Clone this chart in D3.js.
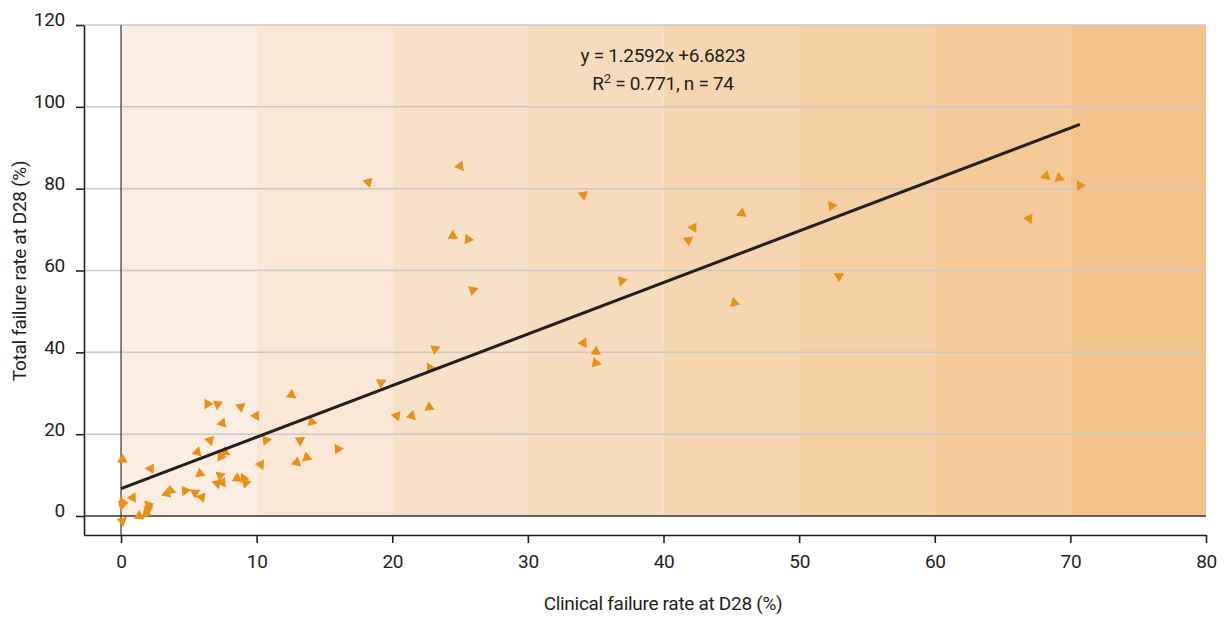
<!DOCTYPE html>
<html>
<head>
<meta charset="utf-8">
<script src="https://cdn.jsdelivr.net/npm/d3@7"></script>
<style>
  body { margin: 0; background: #fff; }
  text { font-family: Roboto, "Noto Sans", sans-serif; fill: #231f20; }
</style>
</head>
<body>
<div id="chart"></div>
<script>
// scatter values (clinical vs total failure rate at D28, %)
const clinical = [0.1, 0.1, 0.1, 0.1, 0.86, 1.33, 1.84, 2.01, 2.03, 2.19,
  3.37, 3.66, 4.72, 5.46, 5.95, 5.63, 5.82, 6.38, 7.12, 6.56,
  7.47, 7.67, 7.35, 7.30, 7.10, 7.47, 8.55, 9.03, 9.19, 8.83,
  9.95, 12.56, 14.06, 10.69, 13.20, 10.30, 12.95, 13.69, 15.98, 19.17,
  20.33, 21.43, 22.73, 22.78, 23.15, 18.23, 25.0, 24.46, 25.59, 25.93,
  34.09, 34.09, 35.02, 35.0, 36.92, 41.83, 42.2, 45.77, 45.22, 52.4,
  52.94, 66.95, 68.2, 69.18, 70.71];
const total = [13.8, 3.4, 2.7, -1.2, 4.5, 0.0, 0.5, 2.7, 1.7, 11.6,
  5.5, 6.2, 6.2, 5.7, 4.6, 15.6, 10.4, 27.4, 27.3, 18.5,
  22.7, 15.6, 14.5, 9.9, 8.0, 8.2, 9.2, 9.2, 8.1, 26.7,
  24.5, 29.6, 23.0, 18.5, 18.5, 12.6, 13.1, 14.3, 16.4, 32.6,
  24.5, 24.5, 26.6, 36.2, 40.8, 81.6, 85.5, 68.5, 67.6, 55.2,
  78.5, 42.3, 40.2, 37.4, 57.5, 67.4, 70.5, 74.0, 52.1, 75.8,
  58.6, 72.7, 83.1, 82.6, 80.8];

// fitted line y = 1.2592x + 6.6823
const slope = 1.2592, intercept = 6.6823;
const fitRange = [0, 70.7];

const xTicks = [0, 10, 20, 30, 40, 50, 60, 70, 80];
const yTicks = [0, 20, 40, 60, 80, 100, 120];
const bandEdges = [0, 10, 20, 30, 40, 50, 60, 70, 80];

const width = 1231, height = 618;

const svg = d3.select("#chart")
  .append("svg")
  .attr("width", width)
  .attr("height", height);

const x = d3.scaleLinear().domain([-2.73, 80]).range([84, 1206]);
const y = d3.scaleLinear().domain([-4.64, 120]).range([535, 25]);

// shaded bands, light to darker orange
const bandColor = d3.interpolateRgb("#fbede1", "#f2c48c");
svg.append("g")
  .selectAll("rect")
  .data(d3.pairs(bandEdges))
  .join("rect")
    .attr("x", d => x(d[0]))
    .attr("y", y(120))
    .attr("width", d => x(d[1]) - x(d[0]))
    .attr("height", y(0) - y(120))
    .attr("fill", (d, i) => bandColor(i / (bandEdges.length - 2)));

// gridlines
svg.append("g")
  .selectAll("line")
  .data(yTicks.filter(t => t > 0))
  .join("line")
    .attr("x1", x.range()[0])
    .attr("x2", x.range()[1])
    .attr("y1", d => y(d))
    .attr("y2", d => y(d))
    .attr("stroke", "#c9c9c9")
    .attr("stroke-width", 1.5);

// zero lines
svg.append("line")
  .attr("x1", x.range()[0]).attr("x2", x.range()[1])
  .attr("y1", y(0)).attr("y2", y(0))
  .attr("stroke", "#333").attr("stroke-width", 1.5);
svg.append("line")
  .attr("x1", x(0)).attr("x2", x(0))
  .attr("y1", y(120)).attr("y2", y.range()[0])
  .attr("stroke", "#333").attr("stroke-width", 1.2);

// axes
const xAxis = svg.append("g")
  .attr("transform", `translate(0, ${y.range()[0]})`)
  .call(d3.axisBottom(x).tickValues(xTicks).tickSize(8).tickSizeOuter(0).tickPadding(12));
const yAxis = svg.append("g")
  .attr("transform", `translate(${x.range()[0]}, 0)`)
  .call(d3.axisLeft(y).tickValues(yTicks).tickSize(8).tickSizeOuter(0).tickPadding(11));

[xAxis, yAxis].forEach(a => {
  a.select(".domain").attr("stroke", "#231f20").attr("stroke-width", 1.6);
  a.selectAll(".tick line").attr("stroke", "#231f20").attr("stroke-width", 1.6);
  a.selectAll(".tick text")
    .attr("font-size", 19)
    .attr("fill", "#231f20")
    .style("font-family", "Roboto, sans-serif")
    .style("letter-spacing", "-0.3px");
});
yAxis.selectAll(".tick text").attr("dy", "0.05em");

// axis labels
svg.append("text")
  .attr("text-anchor", "middle")
  .attr("x", 663)
  .attr("y", 610)
  .attr("font-size", 19)
  .style("letter-spacing", "-0.3px")
  .text("Clinical failure rate at D28 (%)");

svg.append("text")
  .attr("text-anchor", "middle")
  .attr("transform", "rotate(-90)")
  .attr("x", -271)
  .attr("y", 26)
  .attr("font-size", 19)
  .style("letter-spacing", "-0.3px")
  .text("Total failure rate at D28 (%)");

// points
const pts = clinical.map((c, i) => ({x: c, y: total[i]}));
const tri = d3.symbol().type(d3.symbolTriangle).size(48);
svg.append("g")
  .selectAll("path")
  .data(pts)
  .join("path")
    .attr("d", tri)
    .attr("transform", (d, i) => `translate(${x(d.x)},${y(d.y)}) rotate(${(i * 97) % 360})`)
    .attr("fill", "#e8901c");

// regression line
svg.append("path")
  .datum(fitRange)
  .attr("fill", "none")
  .attr("stroke", "#231f20")
  .attr("stroke-width", 3)
  .attr("d", d3.line()
    .x(d => x(d))
    .y(d => y(slope * d + intercept)));

// equation
const eq = svg.append("text")
  .attr("text-anchor", "middle")
  .attr("x", 663)
  .attr("font-size", 19)
  .style("letter-spacing", "-0.3px");
eq.append("tspan").attr("x", 663).attr("y", 62).text(`y = ${slope}x +${intercept}`);
const l2 = eq.append("tspan").attr("x", 663).attr("y", 90);
l2.append("tspan").text("R");
l2.append("tspan").attr("dy", -7).attr("font-size", 13).text("2");
l2.append("tspan").attr("dy", 7).text(" = 0.771,  n = 74");
</script>
</body>
</html>
